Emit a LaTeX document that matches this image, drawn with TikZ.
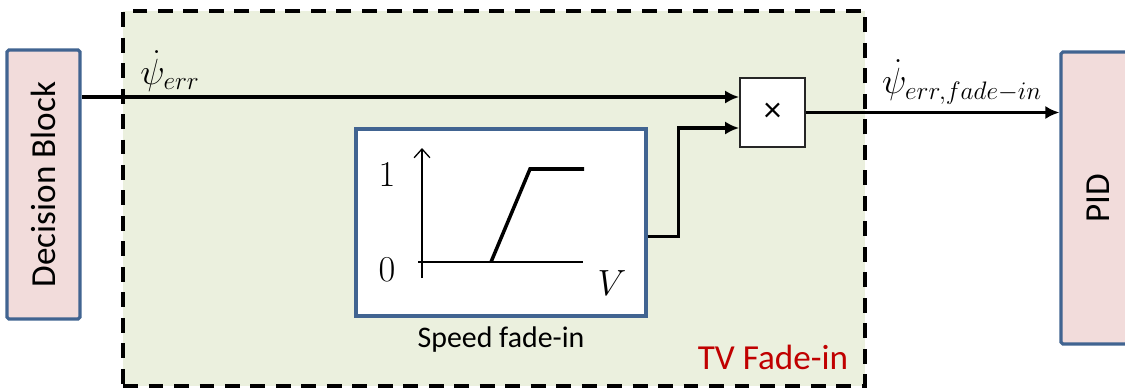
\documentclass[tikz,border=0pt]{standalone}
\usepackage{fontspec}
\setsansfont{Carlito}
\usepackage{tikz}
\usetikzlibrary{arrows.meta,positioning,calc}
\definecolor{blockpink}{RGB}{242,220,219}
\definecolor{blockblue}{RGB}{65,100,145}
\definecolor{fadegreen}{RGB}{235,240,222}
\definecolor{fadered}{RGB}{192,0,0}

\begin{document}
\begin{tikzpicture}[x=0.02cm, y=-0.02cm, >=Latex,
    block/.style={draw=blockblue, line width=1.8pt, fill=blockpink, inner sep=0pt,
      rounded corners=1pt, font=\sffamily\fontsize{20}{24}\selectfont},
    sig/.style={line width=2pt, -{Latex[length=8pt,width=7.5pt]}},
    mathlbl/.style={font=\fontsize{20}{24}\selectfont, inner sep=0pt}]
  \useasboundingbox (0,0) rectangle (1125,389);

  % TV fade-in region
  \node (tv) [draw, line width=2.2pt, dash pattern=on 8.5pt off 6pt, fill=fadegreen,
    minimum width=14.84cm, minimum height=7.5cm] at (494,198.5) {};
  \node[text=fadered, font=\sffamily\fontsize{20}{24}\selectfont] (tvlbl) at (773,357) {TV Fade-in};

  % blocks
  \node[block, minimum width=1.46cm, minimum height=5.38cm] (dec) at (43.5,184.5)
    {\rotatebox{90}{Decision Block}};
  \node[block, minimum width=1.5cm, minimum height=5.84cm] (pid) at (1098.5,198)
    {\rotatebox{90}{PID}};
  \node[draw=black!85, line width=1pt, fill=white, minimum width=1.3cm, minimum height=1.38cm,
    font=\sffamily\fontsize{20}{24}\selectfont] (mul) at (772.5,112.5) {×};
  \node[draw=blockblue, line width=1.8pt, fill=white, minimum width=5.8cm, minimum height=3.74cm]
    (speed) at (501,222.5) {};
  \node[below=5pt of speed, inner sep=0pt, font=\sffamily\fontsize{17}{20}\selectfont] (speedlbl)
    {Speed fade-in};

  % ramp curve
  \draw[line width=0.75pt, -{Straight Barb[length=5pt,width=9pt]}] (422,278) -- (422,148);
  \draw[line width=0.75pt] (418,262) -- (583,262);
  \draw[line width=2pt] (491,262) -- (530,169) -- (584,169);
  \node[mathlbl] (one) at (387,175) {$1$};
  \node[mathlbl] (zero) at (387,270) {$0$};
  \node[mathlbl] (vel) at (612,283) {$V$};

  % signals
  \coordinate (in1) at ($(mul.west)+(0,-15.5)$);
  \coordinate (in2) at ($(mul.west)+(0,15.5)$);
  \draw[sig] (dec.east |- in1) -- (in1);
  \draw[sig] ($(speed.east)+(0,14)$) -- ++(31,0) |- (in2);
  \draw[sig] (mul.east) -- (pid.west |- mul.east);
  \node[mathlbl] (errlbl) at (170,71) {$\dot{\psi}_{err}$};
  \node[mathlbl] (outlbl) at (962,82) {$\dot{\psi}_{err,fade-in}$};
\end{tikzpicture}
\end{document}
